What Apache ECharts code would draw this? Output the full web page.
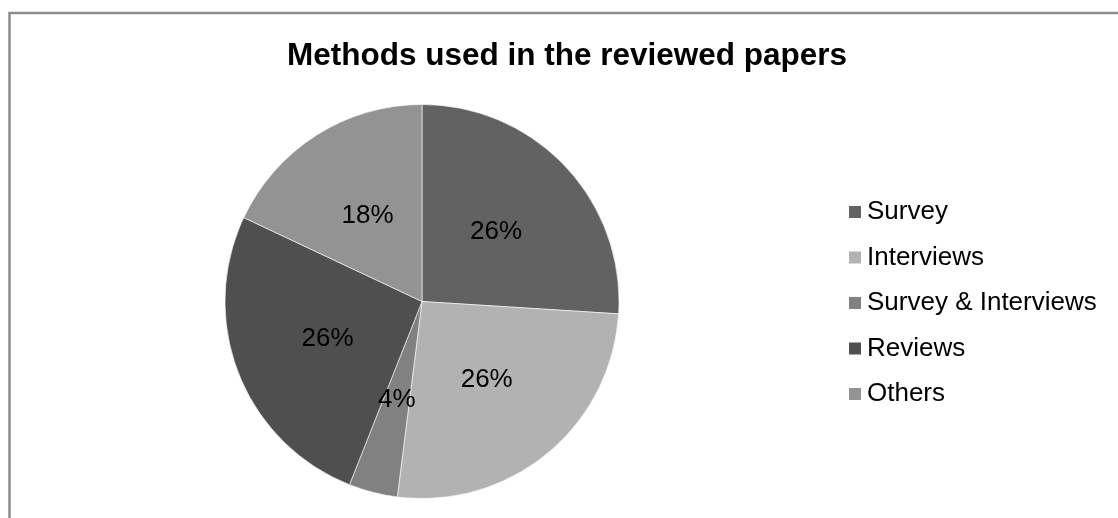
<!DOCTYPE html>
<html>
<head>
<meta charset="utf-8">
<script src="https://cdn.jsdelivr.net/npm/echarts@6/dist/echarts.min.js"></script>
<style>
html,body{margin:0;padding:0;background:#fff;}
#chart{width:1118px;height:518px;}
</style>
</head>
<body>
<div id="chart"></div>
<script>
const categories = ['Survey', 'Interviews', 'Survey & Interviews', 'Reviews', 'Others'];
const values = [26, 26, 4, 26, 18];
const colors = ['#626262', '#b2b2b2', '#818181', '#4f4f4f', '#939393'];
const titleText = 'Methods used in the reviewed papers';

const chart = echarts.init(document.getElementById('chart'), null, {renderer: 'canvas'});
const font = "'Liberation Sans', Arial, sans-serif";
chart.setOption({
  animation: false,
  backgroundColor: '#fff',
  color: colors,
  title: {
    text: titleText,
    left: 287,
    top: 40,
    padding: 0,
    textStyle: {fontFamily: font, fontSize: 31.5, fontWeight: 'bold', color: '#000'}
  },
  legend: {
    orient: 'vertical',
    left: 847,
    top: 199,
    padding: 0,
    icon: 'rect',
    itemWidth: 14,
    itemHeight: 14,
    itemGap: 19.5,
    data: categories,
    textStyle: {fontFamily: font, fontSize: 26, lineHeight: 26, color: '#000'}
  },
  graphic: [{
    type: 'rect',
    silent: true,
    shape: {x: 9.5, y: 13, width: 1300, height: 700},
    style: {fill: 'none', stroke: '#8c8c8c', lineWidth: 2.5}
  }],
  series: [{
    type: 'pie',
    center: [422, 301.5],
    radius: 197,
    startAngle: 90,
    clockwise: true,
    percentPrecision: 0,
    avoidLabelOverlap: false,
    itemStyle: {borderColor: '#ffffff', borderWidth: 0.6},
    label: {
      show: true,
      position: 'inside',
      formatter: '{d}%',
      fontFamily: font,
      fontSize: 26,
      color: '#000'
    },
    labelLine: {show: false},
    emphasis: {disabled: true},
    data: categories.map((c, i) => ({name: c, value: values[i]}))
  }]
});
</script>
</body>
</html>
